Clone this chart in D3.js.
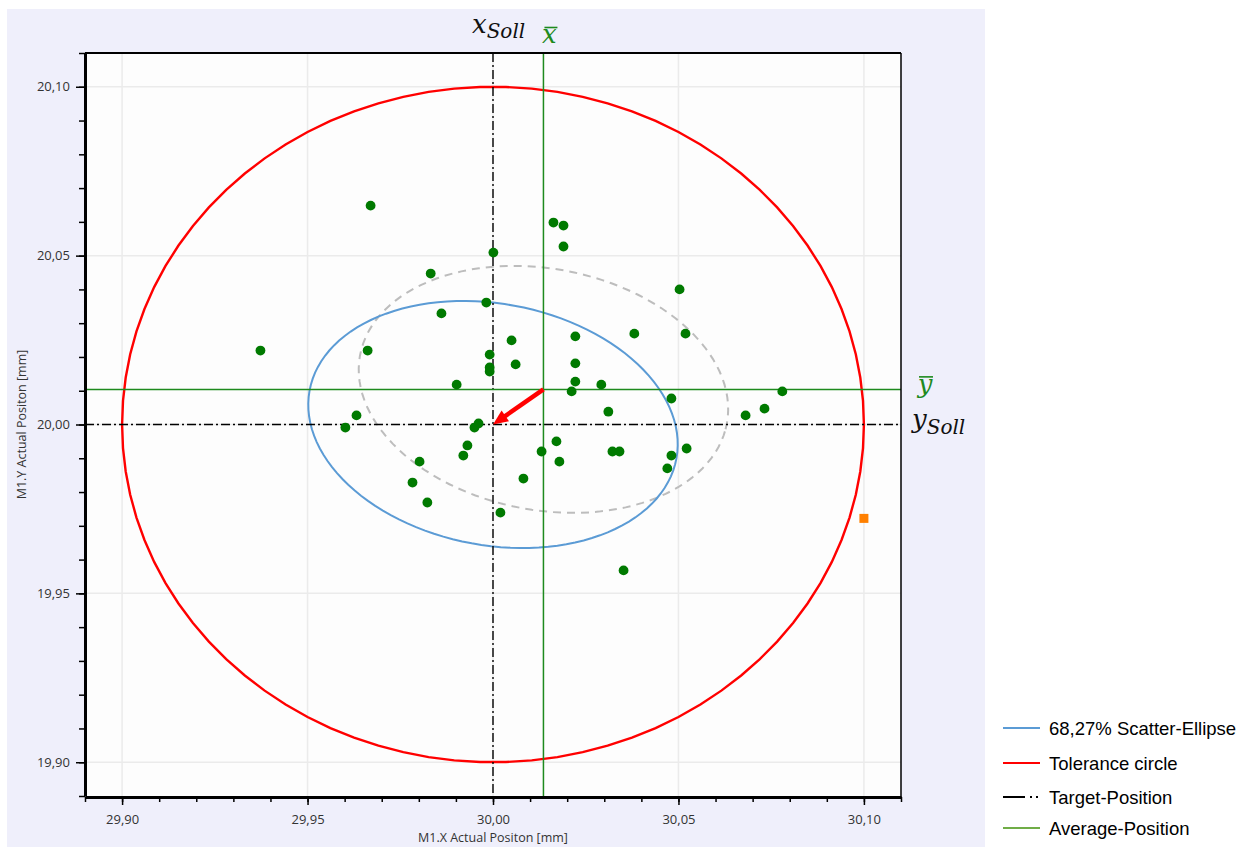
<!DOCTYPE html>
<html lang="en">
<head>
<meta charset="UTF-8">
<title>M1 Actual Position - Scatter</title>
<style>
  body { margin: 0; background: #fff; }
  svg { display: block; }
  svg .tick text { font-family: "Open Sans", sans-serif; font-size: 13px; fill: #333; }
  svg .axis-title { font-family: "Open Sans", sans-serif; font-size: 12.5px; fill: #333; }
  svg .grid { stroke: #ebebeb; stroke-width: 1.5px; }
  svg .math { font-family: "DejaVu Serif", serif; font-style: italic; }
  svg .legend text { font-family: "Liberation Sans", Arial, sans-serif; font-size: 18.5px; fill: #000; }
</style>
</head>
<body>
<div id="chart"></div>
<script src="https://cdn.jsdelivr.net/npm/d3@7"></script>
<script>
  // measured positions M1.X / M1.Y [mm]
  var pointsX = [29.9670, 30.0001, 29.9832, 29.9982, 29.9861, 30.0050, 29.9373, 29.9662, 29.9991, 30.0061,
    29.9991, 29.9991, 29.9902, 29.9632, 29.9602, 29.9961, 29.9950, 29.9931, 29.9920, 29.9802,
    29.9783, 29.9823, 30.0020, 30.0163, 30.0190, 30.0190, 30.0503, 30.0381, 30.0519, 30.0222,
    30.0222, 30.0222, 30.0292, 30.0212, 30.0780, 30.0481, 30.0732, 30.0681, 30.0311, 30.0171,
    30.0131, 30.0322, 30.0341, 30.0179, 30.0522, 30.0481, 30.0470, 30.0082, 30.0352];
  var pointsY = [20.0648, 20.0509, 20.0447, 20.0361, 20.0329, 20.0249, 20.0219, 20.0219, 20.0207, 20.0178,
    20.0169, 20.0157, 20.0118, 20.0027, 19.9991, 20.0003, 19.9991, 19.9938, 19.9908, 19.9890,
    19.9828, 19.9769, 19.9739, 20.0598, 20.0589, 20.0527, 20.0400, 20.0269, 20.0269, 20.0261,
    20.0181, 20.0127, 20.0118, 20.0098, 20.0098, 20.0077, 20.0047, 20.0027, 20.0038, 19.9950,
    19.9920, 19.9920, 19.9920, 19.9890, 19.9929, 19.9908, 19.9870, 19.9840, 19.9568];

  // point outside the evaluation (orange)
  var outlierX = [30.1000];
  var outlierY = [19.9722];

  var target = [30.00, 20.00];
  var average = [30.0136, 20.0104];
  var toleranceRadius = 0.1;

  // 68,27% scatter ellipse: semi axes [mm] and rotation [deg]
  var ellipseAxes = [0.0505, 0.0356];
  var ellipseAngle = -13.5;

  var xTicks = [29.90, 29.95, 30.00, 30.05, 30.10];
  var yTicks = [19.90, 19.95, 20.00, 20.05, 20.10];
  var xMinorTicks = d3.range(0, 23).map(function(i) { return +(29.89 + i * 0.01).toFixed(2); });
  var yMinorTicks = d3.range(0, 23).map(function(i) { return +(19.89 + i * 0.01).toFixed(2); });

  var legendLabels = ['68,27% Scatter-Ellipse', 'Tolerance circle', 'Target-Position', 'Average-Position'];
  var legendColors = ['#5b9bd5', '#ff0000', '#000000', '#70ad47'];
  var legendDash = [null, null, '22,5,2,4,2,100', null];

  var width = 1247,
    height = 847,
    plot = {left: 85, top: 53, right: 901, bottom: 796};

  var fmt = function(v) { return d3.format('.2f')(v).replace('.', ','); };

  var x = d3.scaleLinear().domain([29.89, 30.11]).range([plot.left, plot.right]);
  var y = d3.scaleLinear().domain([19.89, 20.11]).range([plot.bottom, plot.top]);

  var svg = d3.select('#chart').append('svg')
    .attr('width', width)
    .attr('height', height);

  svg.append('rect')
    .attr('x', 7).attr('y', 9)
    .attr('width', 978).attr('height', height - 9)
    .attr('fill', '#efeffb');

  svg.append('rect')
    .attr('x', plot.left).attr('y', plot.top)
    .attr('width', plot.right - plot.left).attr('height', plot.bottom - plot.top)
    .attr('fill', '#fdfdfd');

  svg.append('clipPath').attr('id', 'plot-clip')
    .append('rect')
    .attr('x', plot.left).attr('y', plot.top)
    .attr('width', plot.right - plot.left).attr('height', plot.bottom - plot.top);

  var grid = svg.append('g');
  grid.selectAll('.gx').data(xTicks).enter().append('line')
    .attr('class', 'grid')
    .attr('x1', x).attr('x2', x)
    .attr('y1', plot.top).attr('y2', plot.bottom);
  grid.selectAll('.gy').data(yTicks).enter().append('line')
    .attr('class', 'grid')
    .attr('y1', y).attr('y2', y)
    .attr('x1', plot.left).attr('x2', plot.right);

  var canvas = svg.append('g').attr('clip-path', 'url(#plot-clip)');

  // tolerance circle
  var circlePts = d3.range(0, 360, 4).map(function(a) {
    var r = a * Math.PI / 180;
    return [target[0] + toleranceRadius * Math.cos(r), target[1] + toleranceRadius * Math.sin(r)];
  });
  var line = d3.line()
    .x(function(d) { return x(d[0]); })
    .y(function(d) { return y(d[1]); })
    .curve(d3.curveLinearClosed);

  canvas.append('path')
    .attr('d', line(circlePts))
    .attr('fill', 'none')
    .attr('stroke', '#ff0000')
    .attr('stroke-width', 2.4);

  var ellipsePts = function(c) {
    var th = ellipseAngle * Math.PI / 180;
    return d3.range(0, 360, 3).map(function(a) {
      var t = a * Math.PI / 180,
        ex = ellipseAxes[0] * Math.cos(t),
        ey = ellipseAxes[1] * Math.sin(t);
      return [c[0] + ex * Math.cos(th) - ey * Math.sin(th), c[1] + ex * Math.sin(th) + ey * Math.cos(th)];
    });
  };

  // ellipse around average (dashed) and shifted to target (blue)
  canvas.append('path')
    .attr('d', line(ellipsePts(average)))
    .attr('fill', 'none')
    .attr('stroke', '#bdbdbd')
    .attr('stroke-width', 2)
    .attr('stroke-dasharray', '8,6');

  canvas.append('path')
    .attr('d', line(ellipsePts(target)))
    .attr('fill', 'none')
    .attr('stroke', '#5b9bd5')
    .attr('stroke-width', 2);

  // target position lines
  canvas.append('line')
    .attr('x1', x(target[0])).attr('x2', x(target[0]))
    .attr('y1', plot.top).attr('y2', plot.bottom)
    .attr('stroke', '#000').attr('stroke-width', 1.4)
    .attr('stroke-dasharray', '9,3,2,3');
  canvas.append('line')
    .attr('y1', y(target[1])).attr('y2', y(target[1]))
    .attr('x1', plot.left).attr('x2', plot.right)
    .attr('stroke', '#000').attr('stroke-width', 1.4)
    .attr('stroke-dasharray', '9,3,2,3');

  // average position lines
  canvas.append('line')
    .attr('x1', x(average[0])).attr('x2', x(average[0]))
    .attr('y1', plot.top).attr('y2', plot.bottom)
    .attr('stroke', '#1e8a1e').attr('stroke-width', 1.5);
  canvas.append('line')
    .attr('y1', y(average[1])).attr('y2', y(average[1]))
    .attr('x1', plot.left).attr('x2', plot.right)
    .attr('stroke', '#1e8a1e').attr('stroke-width', 1.5);

  canvas.selectAll('.pt')
    .data(d3.range(pointsX.length))
    .enter().append('circle')
    .attr('cx', function(i) { return x(pointsX[i]); })
    .attr('cy', function(i) { return y(pointsY[i]); })
    .attr('r', 4.9)
    .attr('fill', '#007a00');

  canvas.selectAll('.outlier')
    .data(d3.range(outlierX.length))
    .enter().append('rect')
    .attr('x', function(i) { return x(outlierX[i]) - 4.5; })
    .attr('y', function(i) { return y(outlierY[i]) - 4.5; })
    .attr('width', 9).attr('height', 9)
    .attr('fill', '#ff8000');

  // correction arrow: average -> target
  var ax0 = x(average[0]), ay0 = y(average[1]),
    ax1 = x(target[0]), ay1 = y(target[1]),
    len = Math.sqrt((ax1 - ax0) * (ax1 - ax0) + (ay1 - ay0) * (ay1 - ay0)),
    ux = (ax1 - ax0) / len, uy = (ay1 - ay0) / len,
    head = 15, half = 6.5;

  canvas.append('line')
    .attr('x1', ax0).attr('y1', ay0)
    .attr('x2', ax1 - ux * (head - 2)).attr('y2', ay1 - uy * (head - 2))
    .attr('stroke', '#ff0000').attr('stroke-width', 4.5);
  canvas.append('path')
    .attr('d', 'M' + ax1 + ',' + ay1 +
      'L' + (ax1 - ux * head - uy * half) + ',' + (ay1 - uy * head + ux * half) +
      'L' + (ax1 - ux * head + uy * half) + ',' + (ay1 - uy * head - ux * half) + 'Z')
    .attr('fill', '#ff0000');

  // axes
  var xAxis = svg.append('g')
    .attr('transform', 'translate(0,' + (plot.bottom + 1) + ')')
    .call(d3.axisBottom(x).tickValues(xTicks).tickSize(8).tickSizeOuter(0).tickPadding(10).tickFormat(fmt));
  svg.append('g')
    .attr('transform', 'translate(0,' + (plot.bottom + 1) + ')')
    .call(d3.axisBottom(x).tickValues(xMinorTicks).tickSize(5).tickSizeOuter(0).tickFormat(''))
    .select('.domain').remove();

  var yAxis = svg.append('g')
    .attr('transform', 'translate(' + plot.left + ',0)')
    .call(d3.axisLeft(y).tickValues(yTicks).tickSize(9).tickSizeOuter(0).tickPadding(6).tickFormat(fmt));
  svg.append('g')
    .attr('transform', 'translate(' + plot.left + ',0)')
    .call(d3.axisLeft(y).tickValues(yMinorTicks).tickSize(6).tickSizeOuter(0).tickFormat(''))
    .select('.domain').remove();

  svg.selectAll('.tick line').attr('stroke', '#000').attr('stroke-width', 1.5);
  xAxis.select('.domain').attr('stroke', '#000').attr('stroke-width', 3);
  yAxis.select('.domain').attr('stroke', '#000').attr('stroke-width', 3);
  svg.selectAll('.tick text').attr('font-family', null).attr('font-size', null);

  svg.append('line')
    .attr('x1', plot.left).attr('x2', plot.right)
    .attr('y1', plot.top).attr('y2', plot.top)
    .attr('stroke', '#000').attr('stroke-width', 2);
  svg.append('line')
    .attr('x1', plot.right).attr('x2', plot.right)
    .attr('y1', plot.top).attr('y2', plot.bottom + 2)
    .attr('stroke', '#000').attr('stroke-width', 1.5);

  svg.append('text')
    .attr('class', 'axis-title')
    .attr('x', x(30.00))
    .attr('y', 842)
    .attr('text-anchor', 'middle')
    .text('M1.X Actual Positon [mm]');

  svg.append('text')
    .attr('class', 'axis-title')
    .attr('transform', 'translate(26,' + y(20.00) + ') rotate(-90)')
    .attr('text-anchor', 'middle')
    .text('M1.Y Actual Positon [mm]');

  // position symbols
  var xSoll = svg.append('text').attr('class', 'math')
    .attr('x', x(target[0]) - 21).attr('y', 33)
    .attr('font-size', 26).attr('fill', '#111');
  xSoll.append('tspan').text('x');
  xSoll.append('tspan').attr('font-size', 20).attr('dy', 5).text('Soll');

  var xBar = x(average[0]) + 6;
  svg.append('text').attr('class', 'math')
    .attr('x', xBar).attr('y', 43)
    .attr('text-anchor', 'middle')
    .attr('font-size', 26).attr('fill', '#1e8a1e')
    .text('x');
  svg.append('line')
    .attr('x1', xBar - 5).attr('x2', xBar + 8)
    .attr('y1', 27.5).attr('y2', 27.5)
    .attr('stroke', '#1e8a1e').attr('stroke-width', 1.6);

  var yBarX = 925;
  svg.append('text').attr('class', 'math')
    .attr('x', yBarX).attr('y', y(average[1]) + 4)
    .attr('text-anchor', 'middle')
    .attr('font-size', 26).attr('fill', '#1e8a1e')
    .text('y');
  svg.append('line')
    .attr('x1', yBarX - 6).attr('x2', yBarX + 8)
    .attr('y1', y(average[1]) - 12.5).attr('y2', y(average[1]) - 12.5)
    .attr('stroke', '#1e8a1e').attr('stroke-width', 1.6);

  var ySoll = svg.append('text').attr('class', 'math')
    .attr('x', 912).attr('y', y(target[1]) + 3)
    .attr('font-size', 26).attr('fill', '#111');
  ySoll.append('tspan').text('y');
  ySoll.append('tspan').attr('font-size', 20).attr('dy', 6).text('Soll');

  // legend
  var legendY = [728, 763, 797, 828];
  var legend = svg.append('g').attr('class', 'legend');
  legendLabels.forEach(function(label, i) {
    legend.append('line')
      .attr('x1', 1003).attr('x2', 1040)
      .attr('y1', legendY[i]).attr('y2', legendY[i])
      .attr('stroke', legendColors[i])
      .attr('stroke-width', 2)
      .attr('stroke-dasharray', legendDash[i]);
    legend.append('text')
      .attr('x', 1049)
      .attr('y', legendY[i] + 6.5)
      .text(label);
  });
</script>
</body>
</html>
